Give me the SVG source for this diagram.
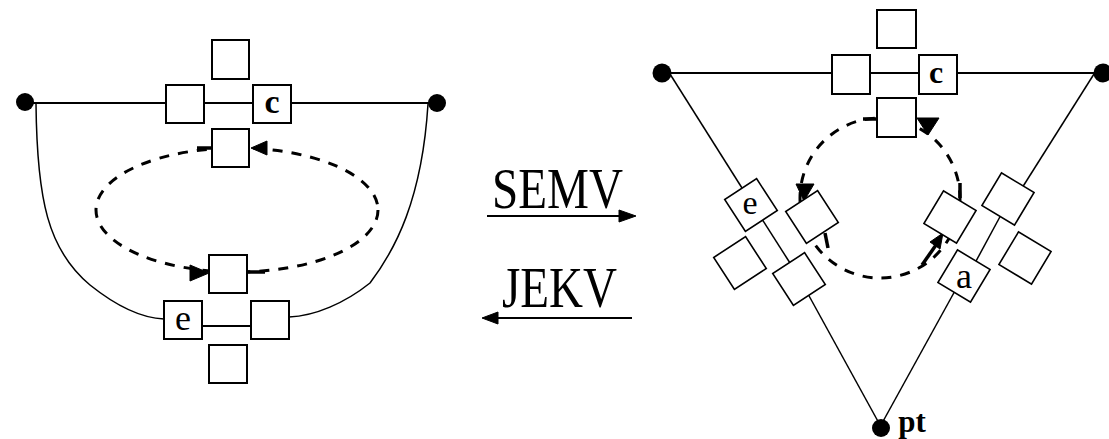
<svg xmlns="http://www.w3.org/2000/svg" width="1109" height="439" viewBox="0 0 1109 439">
<style>
.bg{fill:#ffffff}
.ln{fill:none;stroke:#000;stroke-width:2}
.thin{fill:none;stroke:#000;stroke-width:1.5}
.dash{fill:none;stroke:#000;stroke-width:3;stroke-dasharray:10 9}
.stub{fill:none;stroke:#000;stroke-width:3.5}
.box{fill:#fff;stroke:#000;stroke-width:2}
.rbox{fill:#fff;stroke:#000;stroke-width:1.6}
.dot{fill:#000}
.head{fill:#000;stroke:#000;stroke-width:1}
.lbl{font-family:"Liberation Serif","Times New Roman",serif;fill:#000;text-anchor:middle}
.big{font-family:"Liberation Serif","Times New Roman",serif;fill:#000;font-size:58px}
</style>
<rect class="bg" x="0" y="0" width="1109" height="439"/>

<g id="connectors">
  <!-- left diagram -->
  <line class="ln" x1="25" y1="103" x2="437" y2="103"/>
  <path class="thin" d="M36,104 C37,200 48,250 90,285 C115,305 140,318 164,319"/>
  <path class="thin" d="M428,104 C422,200 395,250 370,283 C345,303 315,316 289,317"/>
  <line class="ln" x1="202" y1="326" x2="251" y2="326"/>
  <ellipse class="dash" cx="237" cy="210" rx="141" ry="62"/>
  <line class="stub" x1="197" y1="148" x2="212" y2="148"/>
  <line class="stub" x1="247" y1="272" x2="265" y2="272"/>
  <polygon class="head" points="251,148 267,141 267,155"/>
  <polygon class="head" points="209,273 190,265 190,281"/>

  <!-- middle arrows -->
  <line class="ln" x1="487" y1="216" x2="622" y2="216"/>
  <polygon class="head" points="636,216 619,210 619,222"/>
  <line class="ln" x1="632" y1="318" x2="496" y2="318"/>
  <polygon class="head" points="482,318 498,312 498,324"/>

  <!-- right diagram -->
  <line class="ln" x1="662" y1="73" x2="1103" y2="73"/>
  <line class="thin" x1="670" y1="74" x2="742" y2="188"/>
  <line class="thin" x1="760" y1="216" x2="790" y2="263"/>
  <line class="thin" x1="808" y1="294" x2="880" y2="425"/>
  <line class="thin" x1="1094" y1="74" x2="1022" y2="188"/>
  <line class="thin" x1="1002" y1="213" x2="975" y2="263"/>
  <line class="thin" x1="956" y1="289" x2="881" y2="425"/>
  <circle class="dash" cx="880" cy="198" r="80"/>
  <line class="stub" x1="863" y1="119" x2="877" y2="119"/>
  <line class="stub" x1="825" y1="233" x2="828" y2="248"/>
  <line class="stub" x1="960" y1="183" x2="960" y2="198"/>
  <line class="stub" x1="922" y1="265" x2="936" y2="245"/>
  <polygon class="head" points="943,233 940,249 930,242"/>
  <polygon class="head" points="917,118 939,118 928,135"/>
  <polygon class="head" points="796,184 814,184 804,201"/>
</g>

<g id="dots">
  <circle class="dot" cx="25" cy="102" r="9"/>
  <circle class="dot" cx="437" cy="103" r="9"/>
  <circle class="dot" cx="662" cy="73" r="9.5"/>
  <circle class="dot" cx="1103" cy="73" r="9.5"/>
  <circle class="dot" cx="881" cy="428" r="9"/>
</g>

<!-- left diagram nodes -->
<g id="L-top"><rect class="box" x="212" y="40" width="37" height="39"/></g>
<g id="L-line1"><rect class="box" x="166" y="85" width="38" height="38"/></g>
<g id="L-c"><rect class="box" x="253" y="85" width="38" height="38"/><text class="lbl" x="272" y="113" font-size="34" font-weight="bold">c</text></g>
<g id="L-loop-top"><rect class="box" x="212" y="129" width="37" height="38"/></g>
<g id="L-loop-bottom"><rect class="box" x="209" y="255" width="38" height="38"/></g>
<g id="L-e"><rect class="box" x="164" y="301" width="38" height="38"/><text class="lbl" x="183" y="330" font-size="36">e</text></g>
<g id="L-right"><rect class="box" x="251" y="301" width="38" height="38"/></g>
<g id="L-bottom"><rect class="box" x="209" y="345" width="38" height="38"/></g>

<!-- middle labels -->
<g id="SEMV"><text class="big" x="492" y="208" textLength="131" lengthAdjust="spacingAndGlyphs">SEMV</text></g>
<g id="JEKV"><text class="big" x="502" y="307" textLength="115" lengthAdjust="spacingAndGlyphs">JEKV</text></g>

<!-- right diagram nodes -->
<g id="R-top"><rect class="box" x="877" y="10" width="39" height="38"/></g>
<g id="R-line1"><rect class="box" x="832" y="55" width="38" height="39"/></g>
<g id="R-c"><rect class="box" x="919" y="55" width="38" height="39"/><text class="lbl" x="936" y="83" font-size="32" font-weight="bold">c</text></g>
<g id="R-loop-top"><rect class="box" x="877" y="98" width="39" height="39"/></g>

<g id="R-e"><rect class="rbox" x="-19" y="-19" width="38" height="38" transform="translate(751,205) rotate(-33)"/><text class="lbl" x="750" y="214" font-size="34">e</text></g>
<g id="R-left-bottom"><rect class="rbox" x="-19" y="-19" width="38" height="38" transform="translate(799,279) rotate(-33)"/></g>
<g id="R-left-outer"><rect class="rbox" x="-19" y="-19" width="38" height="38" transform="translate(740,263) rotate(-33)"/></g>
<g id="R-left-inner"><rect class="rbox" x="-19" y="-19" width="38" height="38" transform="translate(812,217) rotate(-33)"/></g>

<g id="R-right-inner"><rect class="rbox" x="-19" y="-19" width="38" height="38" transform="translate(950,217) rotate(31)"/></g>
<g id="R-right-upper"><rect class="rbox" x="-19" y="-19" width="38" height="38" transform="translate(1008,199) rotate(31)"/></g>
<g id="R-a"><rect class="rbox" x="-19" y="-19" width="38" height="38" transform="translate(964,276) rotate(31)"/><text class="lbl" x="964" y="288" font-size="36">a</text></g>
<g id="R-right-outer"><rect class="rbox" x="-19" y="-19" width="38" height="38" transform="translate(1025,258) rotate(31)"/></g>

<g id="pt"><text class="lbl" x="912" y="432" font-size="31" font-weight="bold">pt</text></g>
</svg>
